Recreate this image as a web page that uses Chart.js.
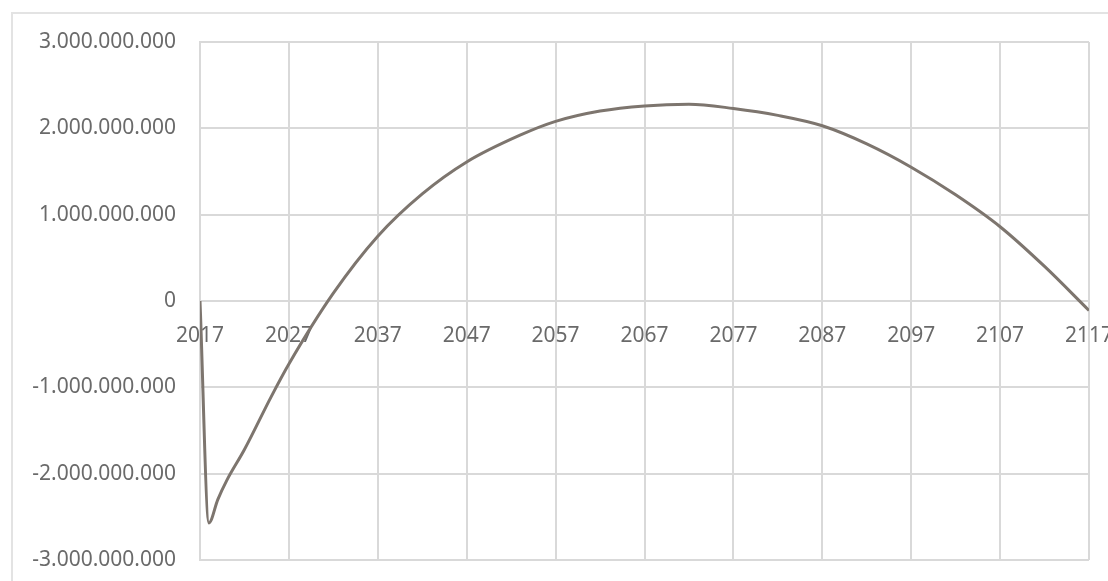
<!DOCTYPE html>
<html>
<head>
    <title>Cash flow curve</title>
    <script src="https://cdn.jsdelivr.net/npm/chart.js"></script>
    <style>
        body { margin: 0; background: #fff; overflow: hidden; }
        #frame { position: absolute; left: 11px; top: 12px; width: 1110px; height: 600px; border: 2px solid #e3e3e3; }
        #wrap { position: absolute; left: 0; top: 0; width: 1108px; height: 581px; }
    </style>
</head>
<body>
    <div id="frame"></div>
    <div id="wrap">
        <canvas id="lineChart"></canvas>
    </div>

    <script>
        // values (years, and value in units)
        var years = [2017, 2018, 2019, 2020, 2022, 2025, 2027, 2032, 2037, 2042, 2047, 2053, 2057, 2062, 2067, 2072, 2077, 2082, 2087, 2092, 2097, 2102, 2107, 2112, 2117];
        var values = [0, -2.57e9, -2.30e9, -2.08e9, -1.72e9, -1.11e9, -0.73e9, 0.09e9, 0.75e9, 1.24e9, 1.61e9, 1.92e9, 2.08e9, 2.20e9, 2.26e9, 2.28e9, 2.23e9, 2.15e9, 2.03e9, 1.82e9, 1.55e9, 1.23e9, 0.86e9, 0.40e9, -0.11e9];
        var xMin = 2017, xMax = 2117, xStep = 10;
        var yMin = -3e9, yMax = 3e9, yStep = 1e9;

        var points = years.map(function (y, i) { return { x: y, y: values[i] }; });

        var gridColor = '#d9d9d9';
        var textColor = '#6a6a6a';

        function noPad(scale) {
            scale.paddingLeft = 0;
            scale.paddingRight = 0;
            scale.paddingTop = 0;
            scale.paddingBottom = 0;
        }

        var ctx = document.getElementById('lineChart').getContext('2d');
        var myChart = new Chart(ctx, {
            type: 'line',
            data: {
                datasets: [{
                    data: points,
                    borderColor: '#7d756e',
                    borderWidth: 3,
                    pointRadius: 0,
                    fill: false,
                    cubicInterpolationMode: 'monotone'
                }]
            },
            options: {
                responsive: true,
                maintainAspectRatio: false,
                animation: false,
                layout: { padding: { top: 42, right: 19, bottom: 21, left: 0 } },
                plugins: { legend: { display: false }, tooltip: { enabled: false } },
                scales: {
                    x: {
                        type: 'linear',
                        position: { y: 0 },
                        min: xMin,
                        max: xMax,
                        afterFit: noPad,
                        grid: { color: gridColor, lineWidth: 2, drawTicks: false },
                        border: { color: gridColor, width: 2 },
                        ticks: {
                            stepSize: xStep,
                            padding: 22,
                            color: textColor,
                            font: { family: 'Noto Sans', size: 21 },
                            maxRotation: 0,
                            callback: function (v) { return String(v); }
                        }
                    },
                    y: {
                        min: yMin,
                        max: yMax,
                        afterFit: function (scale) { noPad(scale); scale.width = 200; },
                        grid: { color: gridColor, lineWidth: 2, drawTicks: false },
                        border: { color: gridColor, width: 2 },
                        ticks: {
                            stepSize: yStep,
                            padding: 24,
                            color: textColor,
                            font: { family: 'Noto Sans', size: 21 },
                            callback: function (v) { return v.toLocaleString('de-DE'); }
                        }
                    }
                }
            }
        });
    </script>
</body>
</html>
